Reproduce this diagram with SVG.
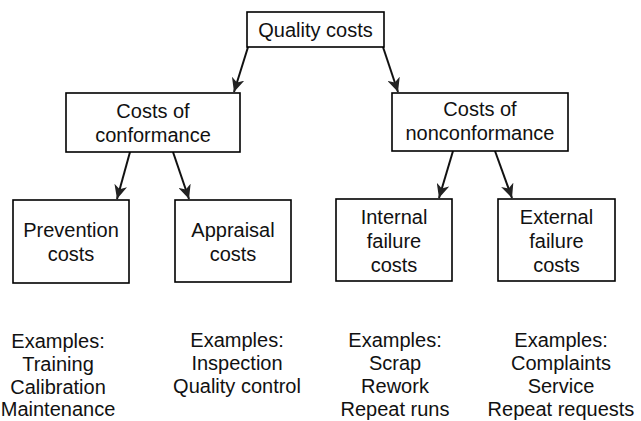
<svg xmlns="http://www.w3.org/2000/svg" width="641" height="421" viewBox="0 0 641 421">
<style>
.box{fill:#fff;stroke:#000;stroke-width:1.6}
.t{font-family:"Liberation Sans",Arial,sans-serif;font-size:20px;fill:#111;text-anchor:middle}
.c{stroke:#111;stroke-width:2;fill:none;marker-end:url(#ah)}
</style>
<defs>
<marker id="ah" markerUnits="userSpaceOnUse" markerWidth="15" markerHeight="13" refX="14" refY="6.5" orient="auto">
<path d="M0,0 L14,6.5 L0,13 L4,6.5 z" fill="#222"/>
</marker>
</defs>
<rect width="641" height="421" fill="#fff"/>
<g id="connectors">
<line class="c" x1="248" y1="47" x2="234" y2="92"/>
<line class="c" x1="383" y1="47" x2="398" y2="92"/>
<line class="c" x1="130" y1="152" x2="117" y2="199"/>
<line class="c" x1="173" y1="152" x2="189" y2="199"/>
<line class="c" x1="453" y1="151" x2="439" y2="198"/>
<line class="c" x1="495" y1="151" x2="512" y2="198"/>
</g>
<g id="quality-costs">
<rect class="box" x="247" y="12" width="137" height="35"/>
<text class="t" x="315.5" y="37">Quality costs</text>
</g>
<g id="costs-conformance">
<rect class="box" x="66" y="93" width="174" height="59"/>
<text class="t" x="153" y="118">Costs of</text>
<text class="t" x="153" y="142">conformance</text>
</g>
<g id="costs-nonconformance">
<rect class="box" x="392" y="93" width="176" height="58"/>
<text class="t" x="480" y="116">Costs of</text>
<text class="t" x="480" y="140">nonconformance</text>
</g>
<g id="prevention">
<rect class="box" x="13" y="200" width="116" height="83"/>
<text class="t" x="71" y="237">Prevention</text>
<text class="t" x="71" y="261">costs</text>
</g>
<g id="appraisal">
<rect class="box" x="175" y="200" width="116" height="82"/>
<text class="t" x="233" y="237">Appraisal</text>
<text class="t" x="233" y="261">costs</text>
</g>
<g id="internal">
<rect class="box" x="336" y="199" width="116" height="82"/>
<text class="t" x="394" y="224">Internal</text>
<text class="t" x="394" y="248">failure</text>
<text class="t" x="394" y="272">costs</text>
</g>
<g id="external">
<rect class="box" x="498" y="199" width="117" height="82"/>
<text class="t" x="556.5" y="224">External</text>
<text class="t" x="556.5" y="248">failure</text>
<text class="t" x="556.5" y="272">costs</text>
</g>
<g id="examples-prevention">
<text class="t" x="58" y="348">Examples:</text>
<text class="t" x="58" y="371">Training</text>
<text class="t" x="58" y="394">Calibration</text>
<text class="t" x="58" y="416">Maintenance</text>
</g>
<g id="examples-appraisal">
<text class="t" x="237" y="347">Examples:</text>
<text class="t" x="237" y="370">Inspection</text>
<text class="t" x="237" y="393">Quality control</text>
</g>
<g id="examples-internal">
<text class="t" x="395" y="347">Examples:</text>
<text class="t" x="395" y="370">Scrap</text>
<text class="t" x="395" y="393">Rework</text>
<text class="t" x="395" y="416">Repeat runs</text>
</g>
<g id="examples-external">
<text class="t" x="561" y="347">Examples:</text>
<text class="t" x="561" y="370">Complaints</text>
<text class="t" x="561" y="393">Service</text>
<text class="t" x="561" y="416">Repeat requests</text>
</g>
</svg>
